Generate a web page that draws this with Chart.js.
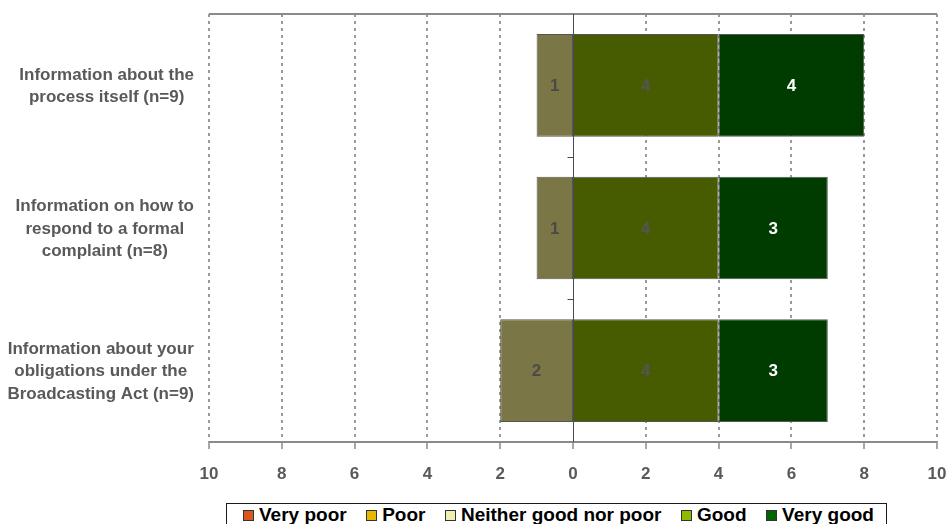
<!DOCTYPE html>
<html>
<head>
<meta charset="utf-8">
<script src="https://cdn.jsdelivr.net/npm/chart.js@4.4.1/dist/chart.umd.min.js"></script>
<style>
  html, body { margin: 0; padding: 0; background: #fff; }
  #wrap { position: relative; width: 947px; height: 524px; overflow: hidden; }
  #chart { position: absolute; left: 0; top: 0; }
  #legend {
    position: absolute; left: 226px; top: 503px; width: 661px; height: 32px;
    box-sizing: border-box; border: 1px solid #1a1a1a;
    display: flex; align-items: flex-start; justify-content: space-between;
    padding: 0 12px 0 16px;
    font: bold 19px "Liberation Sans", Arial, sans-serif; color: #000;
  }
  #legend .item { display: flex; align-items: center; height: 22px; white-space: nowrap; }
  #legend .sw { width: 9px; height: 9px; border: 1px solid #333; margin-right: 5px; }
</style>
</head>
<body>
<div id="wrap">
  <canvas id="chart" width="947" height="500"></canvas>
  <div id="legend"></div>
</div>
<script>
// Categories (multi-line labels) and response counts per rating
const categories = [
  ["Information about the", "process itself (n=9)"],
  ["Information on how to", "respond to a formal", "complaint (n=8)"],
  ["Information about your", "obligations under the", "Broadcasting Act (n=9)"]
];
const veryPoor = [0, 0, 0];
const poor     = [0, 0, 0];
const neither  = [1, 1, 2];
const good     = [4, 4, 4];
const veryGood = [4, 3, 3];

const ratingNames = ["Very poor", "Poor", "Neither good nor poor", "Good", "Very good"];
const legendColors = ["#d9561c", "#e8b800", "#efefb0", "#8fba00", "#006400"];

const axisMin = -10, axisMax = 10, axisStep = 2;

const FONT = '"Liberation Sans", Arial, sans-serif';
const labelGrey = '#595959';

// Non-positive ratings stack to the left of zero (neutral nearest to zero)
const datasets = [
  { label: "Neither good nor poor", data: neither.map(v => -v),  backgroundColor: '#7a7646', labelColor: '#4a4a4a' },
  { label: "Poor",                  data: poor.map(v => -v),     backgroundColor: '#b08a00', labelColor: '#4a4a4a' },
  { label: "Very poor",             data: veryPoor.map(v => -v), backgroundColor: '#9a3c10', labelColor: '#ffffff' },
  { label: "Good",                  data: good,                  backgroundColor: '#475c00', labelColor: '#555555' },
  { label: "Very good",             data: veryGood,              backgroundColor: '#003c00', labelColor: '#ffffff' }
].map(d => Object.assign(d, {
  borderColor: '#555555',
  borderWidth: ctx => (ctx.raw ? 1 : 0),
  borderSkipped: false,
  barPercentage: 0.72,
  categoryPercentage: 1.0
}));

// Grid, frame and axis line drawn behind the bars
const framePlugin = {
  id: 'frame',
  beforeDatasetsDraw(chart) {
    const { ctx, chartArea: a, scales: { x } } = chart;
    ctx.save();
    ctx.strokeStyle = '#9a9a9a';
    ctx.lineWidth = 2;
    ctx.setLineDash([3, 4]);
    for (let v = axisMin; v <= axisMax; v += axisStep) {
      if (v === 0) continue;
      const px = Math.round(x.getPixelForValue(v));
      ctx.beginPath();
      ctx.moveTo(px, a.top);
      ctx.lineTo(px, a.bottom);
      ctx.stroke();
    }
    ctx.setLineDash([]);
    // top frame line
    ctx.strokeStyle = '#8a8a8a';
    ctx.beginPath();
    ctx.moveTo(a.left, a.top);
    ctx.lineTo(a.right, a.top);
    ctx.stroke();
    // bottom axis line with tick marks
    ctx.beginPath();
    ctx.moveTo(a.left, a.bottom);
    ctx.lineTo(a.right, a.bottom);
    ctx.stroke();
    ctx.lineWidth = 1.5;
    for (let v = axisMin; v <= axisMax; v += axisStep) {
      const px = Math.round(x.getPixelForValue(v));
      ctx.beginPath();
      ctx.moveTo(px, a.bottom);
      ctx.lineTo(px, a.bottom + 7);
      ctx.stroke();
    }
    ctx.restore();
  },
  afterDatasetsDraw(chart) {
    const { ctx, chartArea: a, scales: { x, y } } = chart;
    ctx.save();
    // zero line with category separators
    const x0 = Math.round(x.getPixelForValue(0)) + 0.5;
    ctx.strokeStyle = '#4a4a55';
    ctx.lineWidth = 1;
    ctx.beginPath();
    ctx.moveTo(x0, a.top);
    ctx.lineTo(x0, a.bottom);
    ctx.stroke();
    for (let i = 0; i < categories.length - 1; i++) {
      const yb = Math.round((y.getPixelForValue(i) + y.getPixelForValue(i + 1)) / 2) + 0.5;
      ctx.beginPath();
      ctx.moveTo(x0 - 6, yb);
      ctx.lineTo(x0, yb);
      ctx.stroke();
    }

    // value labels in the middle of each segment
    ctx.font = 'bold 17px ' + FONT;
    ctx.textAlign = 'center';
    ctx.textBaseline = 'middle';
    chart.data.datasets.forEach((ds, di) => {
      const meta = chart.getDatasetMeta(di);
      meta.data.forEach((bar, i) => {
        const v = ds.data[i];
        if (!v) return;
        const c = bar.getCenterPoint();
        ctx.fillStyle = ds.labelColor;
        ctx.fillText(String(Math.abs(v)), c.x, c.y + 1);
      });
    });

    // category labels, lines centred within each block, block right-aligned
    const lh = 22.5;
    ctx.fillStyle = labelGrey;
    categories.forEach((lines, i) => {
      const yc = y.getPixelForValue(i);
      const widest = Math.max(...lines.map(l => ctx.measureText(l).width));
      const cx = a.left - 15 - widest / 2;
      lines.forEach((l, k) => {
        ctx.fillText(l, cx, yc + (k - (lines.length - 1) / 2) * lh + 1);
      });
    });
    ctx.restore();
  }
};

new Chart(document.getElementById('chart'), {
  type: 'bar',
  data: { labels: categories.map(c => c.join(' ')), datasets },
  options: {
    indexAxis: 'y',
    responsive: false,
    animation: false,
    devicePixelRatio: 1,
    layout: { padding: { left: 209, right: 10, top: 14, bottom: 0 } },
    plugins: { legend: { display: false }, tooltip: { enabled: false } },
    scales: {
      x: {
        type: 'linear', stacked: true, min: axisMin, max: axisMax,
        grid: { display: false }, border: { display: false },
        ticks: {
          stepSize: axisStep, padding: 14, color: labelGrey,
          font: { family: FONT, size: 17, weight: 'bold' },
          callback: v => String(Math.abs(v))
        },
        afterFit: s => { s.height = 58; s.paddingLeft = 0; s.paddingRight = 0; }
      },
      y: { stacked: true, display: false }
    }
  },
  plugins: [framePlugin]
});

// Legend
const legend = document.getElementById('legend');
ratingNames.forEach((name, i) => {
  const item = document.createElement('div');
  item.className = 'item';
  const sw = document.createElement('span');
  sw.className = 'sw';
  sw.style.background = legendColors[i];
  item.appendChild(sw);
  item.appendChild(document.createTextNode(name));
  legend.appendChild(item);
});
</script>
</body>
</html>
